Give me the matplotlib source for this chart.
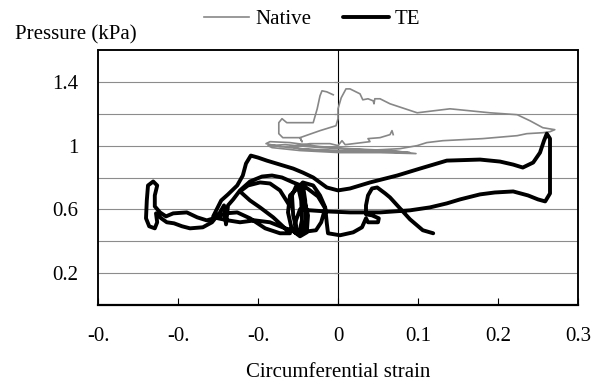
import matplotlib
matplotlib.use("Agg")
import matplotlib.pyplot as plt
from matplotlib.patches import Rectangle
import numpy as np

plt.rcParams['font.family'] = ['Liberation Serif', 'DejaVu Serif']

# Native (grey) trace: circumferential strain, pressure (kPa)
native_strain = [-0.006, -0.014, -0.020, -0.0225, -0.026, -0.031, -0.044, -0.064, -0.070, -0.074,
                 -0.074, -0.069, -0.0475, -0.045, -0.0475, -0.0225, -0.0025, 0.0, 0.0, 0.004,
                 0.010, 0.015, 0.0275, 0.031, 0.0375, 0.044, 0.045, 0.046, 0.0525, 0.065,
                 0.099, 0.140, 0.190, 0.224, 0.240, 0.256, 0.271, 0.265, 0.256, 0.236,
                 0.224, 0.181, 0.131, 0.111, 0.099, 0.0775, 0.056, 0.0275, 0.0, -0.035,
                 -0.0725, -0.090, -0.085, -0.060, -0.0225, 0.015, 0.065, 0.0975, 0.0525, 0.0025,
                 -0.0475, -0.0825, -0.0875, -0.066, -0.0225, 0.0275, 0.0775, 0.090, 0.040, -0.010,
                 -0.0475, -0.060, -0.035, -0.010, 0.0, 0.005, 0.009, 0.040, 0.0375, 0.0525,
                 0.065, 0.0675, 0.069]
native_pressure = [1.319, 1.3375, 1.344, 1.3125, 1.231, 1.144, 1.144, 1.144, 1.169, 1.144,
                   1.075, 1.050, 1.050, 1.025, 1.050, 1.094, 1.125, 1.169, 1.231, 1.300,
                   1.356, 1.356, 1.325, 1.2875, 1.294, 1.281, 1.2625, 1.294, 1.294, 1.2625,
                   1.206, 1.231, 1.206, 1.194, 1.156, 1.1125, 1.100, 1.0875, 1.081, 1.075,
                   1.0625, 1.044, 1.031, 1.019, 1.000, 0.981, 0.975, 0.969, 0.969, 0.975,
                   0.994, 1.0125, 1.025, 1.019, 0.994, 0.981, 0.969, 0.950, 0.956, 0.956,
                   0.969, 0.9875, 1.000, 1.006, 0.9875, 0.975, 0.9625, 0.956, 0.9625, 0.969,
                   0.981, 0.994, 1.0125, 1.0125, 1.000, 1.031, 1.006, 1.025, 1.044, 1.050,
                   1.069, 1.094, 1.069]

# TE (black) trace
te_strain = [-0.060, -0.0725, -0.085, -0.0975, -0.1125, -0.1225, -0.110, -0.0975, -0.081, -0.069,
             -0.060, -0.0725, -0.091, -0.110, -0.126, -0.141, -0.151, -0.164, -0.176, -0.189,
             -0.206, -0.215, -0.2225, -0.229, -0.229, -0.226, -0.231, -0.2375, -0.239, -0.240,
             -0.236, -0.229, -0.226, -0.2275, -0.221, -0.214, -0.205, -0.195, -0.185, -0.169,
             -0.1575, -0.1475, -0.1425, -0.140, -0.1375, -0.131, -0.1225, -0.110, -0.095, -0.0825,
             -0.070, -0.056, -0.040, -0.025, -0.016, -0.021, -0.0275, -0.0475, -0.066, -0.085,
             -0.104, -0.1225, -0.1375, -0.150, -0.156,
             -0.151, -0.146, -0.1375, -0.126, -0.119, -0.115, -0.109, -0.100, -0.089, -0.0725,
             -0.056, -0.044, -0.031, -0.0225, -0.014, 0.0, 0.015, 0.040, 0.074, 0.1025,
             0.136, 0.1775, 0.2025, 0.219, 0.231, 0.244, 0.2525, 0.2575, 0.261, 0.265,
             0.265, 0.265, 0.259, 0.250, 0.2375, 0.219, 0.196, 0.1775, 0.1525, 0.136,
             0.115, 0.090, 0.0525, 0.015, -0.016, -0.035, -0.0475,
             -0.0525, -0.054, -0.049, -0.045, -0.046, -0.050, -0.044, -0.041, -0.040, -0.044,
             -0.051, -0.056, -0.0575, -0.0525, -0.045, -0.0375, -0.039, -0.0475, -0.0575, -0.0625,
             -0.060, -0.051,
             -0.044, -0.031, -0.0225, -0.016, -0.014, -0.0125, 0.0025, 0.019, 0.030, 0.035,
             0.0375, 0.050, 0.051, 0.0425, 0.035, 0.035, 0.0375, 0.0425, 0.049, 0.059,
             0.065, 0.0775, 0.090, 0.106, 0.119]
te_pressure = [0.619, 0.719, 0.7625, 0.769, 0.750, 0.7125, 0.656, 0.6125, 0.550, 0.494,
               0.450, 0.450, 0.481, 0.544, 0.581, 0.575, 0.550, 0.531, 0.550, 0.581,
               0.575, 0.556, 0.581, 0.619, 0.6875, 0.750, 0.775, 0.750, 0.656, 0.544,
               0.494, 0.481, 0.519, 0.575, 0.544, 0.519, 0.5125, 0.494, 0.481, 0.4875,
               0.519, 0.581, 0.625, 0.506, 0.625, 0.6625, 0.719, 0.775, 0.806, 0.8125,
               0.800, 0.769, 0.7375, 0.681, 0.606, 0.519, 0.469, 0.456, 0.481, 0.519,
               0.531, 0.519, 0.531, 0.544, 0.556,
               0.606, 0.656, 0.694, 0.750, 0.8125, 0.8875, 0.9375, 0.925, 0.906, 0.881,
               0.856, 0.831, 0.800, 0.769, 0.7375, 0.719, 0.731, 0.769, 0.8125, 0.856,
               0.906, 0.9125, 0.900, 0.881, 0.8625, 0.894, 0.956, 1.031, 1.075, 1.044,
               0.875, 0.700, 0.650, 0.6625, 0.6875, 0.7125, 0.706, 0.694, 0.6625, 0.6375,
               0.6125, 0.594, 0.581, 0.581, 0.5875, 0.594, 0.600,
               0.531, 0.456, 0.444, 0.531, 0.656, 0.744, 0.756, 0.656, 0.531, 0.450,
               0.456, 0.5625, 0.6875, 0.744, 0.719, 0.5625, 0.456, 0.431, 0.469, 0.581,
               0.6875, 0.731,
               0.769, 0.750, 0.6875, 0.6125, 0.5125, 0.450, 0.4375, 0.456, 0.4875, 0.544,
               0.519, 0.519, 0.544, 0.5625, 0.569, 0.625, 0.6875, 0.731, 0.7375, 0.700,
               0.675, 0.606, 0.5375, 0.469, 0.450]

x_ticks = [-0.3, -0.2, -0.1, 0.0, 0.1, 0.2, 0.3]
x_tick_labels = ["-0.", "-0.", "-0.", "0", "0.1", "0.2", "0.3"]
y_grid = [0.2, 0.4, 0.6, 0.8, 1.0, 1.2, 1.4]
y_ticks = [0.2, 0.6, 1.0, 1.4]
y_tick_labels = ["0.2", "0.6", "1", "1.4"]

fig = plt.figure(figsize=(6.0, 3.89), dpi=100)
ax = fig.add_axes([98/600, 1-305/389, 480/600, 255/389])

ax.set_xlim(-0.3, 0.3)
ax.set_ylim(0, 1.6)

for g in y_grid:
    ax.axhline(g, color='#8c8c8c', lw=0.8, zorder=1)

ax.plot(native_strain, native_pressure, color='#878787', lw=1.2, label='Native', zorder=3)
ax.plot(te_strain, te_pressure, color='black', lw=2.8, label='TE', zorder=4,
        solid_joinstyle='round', solid_capstyle='round')

# y-axis crossing at x = 0
sec = ax.secondary_yaxis(0.5)
sec.set_yticks(y_grid)
sec.tick_params(direction='in', length=3, width=0.8, labelleft=False, labelright=False)
sec.spines['left'].set_linewidth(0.8)

ax.set_xticks(x_ticks)
ax.set_xticklabels(x_tick_labels, fontsize=15)
ax.tick_params(axis='x', direction='in', length=5, width=0.8, pad=16)
ax.set_yticks(y_ticks)
ax.set_yticklabels(y_tick_labels, fontsize=15)
ax.tick_params(axis='y', length=0, pad=14)

for s in ['top', 'right', 'left']:
    ax.spines[s].set_color('black')
    ax.spines[s].set_linewidth(1.1)
ax.spines['bottom'].set_linewidth(1.6)

# explicit plot-area frame
ax.add_patch(Rectangle((0, 0), 1, 1, transform=ax.transAxes, fill=False,
                       edgecolor='black', lw=1.1, clip_on=False, zorder=10))

ax.set_xlabel('Circumferential strain', fontsize=15, labelpad=12)
fig.text(15/600, 1-35/389, 'Pressure (kPa)', fontsize=15, ha='left', va='center')

fig.legend(loc='center', bbox_to_anchor=(312/600, 1-19/389), ncol=2, frameon=False,
           fontsize=15, handlelength=2.2, handletextpad=0.3, columnspacing=1.5)

fig.savefig('out.png', dpi=100)
